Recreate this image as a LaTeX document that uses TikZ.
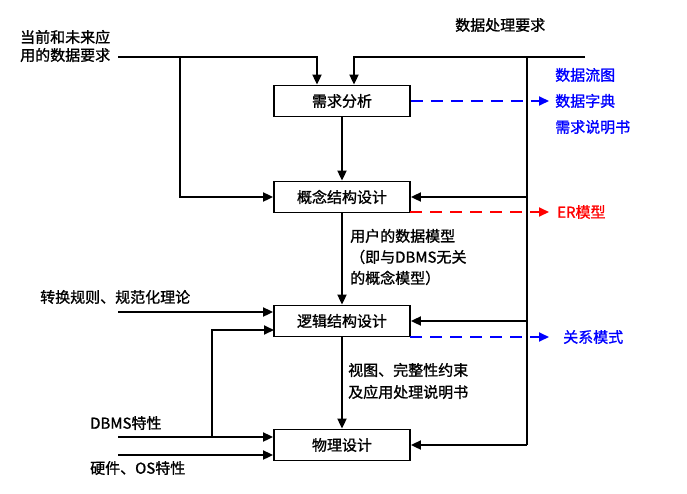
\documentclass[tikz,border=0pt]{standalone}
\usepackage{fontspec}
\setmainfont{Noto Sans CJK SC}[FakeBold=1.2,AutoFakeBold=1.2]
\usetikzlibrary{arrows.meta}
\begin{document}
\begin{tikzpicture}[x=1pt,y=-1pt,
  font=\fontsize{15}{18}\selectfont\bfseries,
  box/.style={draw,line width=1.8pt,minimum width=136pt,minimum height=31pt,inner sep=0pt,fill=white},
  ln/.style={line width=1.8pt},
  ar/.style={ln,-{Triangle[length=10pt,width=9pt]}},
  da/.style={line width=1.8pt,dash pattern=on 12pt off 8pt,-{Triangle[length=10pt,width=9pt]}},
  lb/.style={inner sep=0pt,align=left}]
\useasboundingbox (0,0) rectangle (687,493);
\node[box] (a) at (342,101) {需求分析};
\node[box] (b) at (342,197) {概念结构设计};
\node[box] (c) at (342,321) {逻辑结构设计};
\node[box] (d) at (342,445) {物理设计};
% left top input
\coordinate (l0) at (118,57);
\coordinate (l1) at (180,57);
\draw[ar] (l0) -| ([xshift=-25pt]a.north);
\draw[ar] (l1) |- (b.west);
% right input
\coordinate (r0) at (585,57);
\coordinate (r1) at (527,57);
\coordinate (r2) at (527,445);
\draw[ar] (r0) -| ([xshift=12pt]a.north);
\draw[ln] (r1) -- (r2);
\draw[ar] (527,197) -- (b.east);
\draw[ar] (527,321) -- (c.east);
\draw[ar] (r2) -- (d.east);
% vertical chain
\draw[ar] (a) -- (b);
\draw[ar] (b) -- (c);
\draw[ar] (c) -- (d);
% left lower inputs
\coordinate (t0) at (118,312);
\draw[ar] (t0) -- (t0 -| c.west);
\coordinate (s0) at (118,437);
\draw[ar] (s0) -- (s0 -| d.west);
\coordinate (s1) at (212,437);
\draw[ar] (s1) |- (274,330);
\coordinate (h0) at (118,455);
\draw[ar] (h0) -- (h0 -| d.west);
% dashed outputs
\coordinate (oa) at (549,101);
\coordinate (ob) at (549,212);
\coordinate (oc) at (549,337);
\draw[da,blue] (a.east) -- (oa);
\draw[da,red] (410,212) -- (ob);
\draw[da,blue] (410,337) -- (oc);
% labels
\node[lb,anchor=west] (t1) at (20,46) {当前和未来应\\用的数据要求};
\node[lb,anchor=west] (t2) at (455,25) {数据处理要求};
\node[lb,anchor=west,blue] (t3) at (555,101) {数据流图\\[8pt]数据字典\\[8pt]需求说明书};
\node[lb,anchor=west,red] (t4) at (557,212) {ER模型};
\node[lb,anchor=west,blue] (t5) at (563,337) {关系模式};
\node[lb,anchor=west] (t6) at (350,257) {用户的数据模型\\[3pt]（即与DBMS无关\\[3pt]的概念模型）};
\node[lb,anchor=west] (t7) at (40,297) {转换规则、规范化理论};
\node[lb,anchor=west] (t8) at (348,381) {视图、完整性约束\\[4pt]及应用处理说明书};
\node[lb,anchor=west] (t9) at (90,423) {DBMS特性};
\node[lb,anchor=west] (t10) at (90,468) {硬件、OS特性};
\end{tikzpicture}
\end{document}
